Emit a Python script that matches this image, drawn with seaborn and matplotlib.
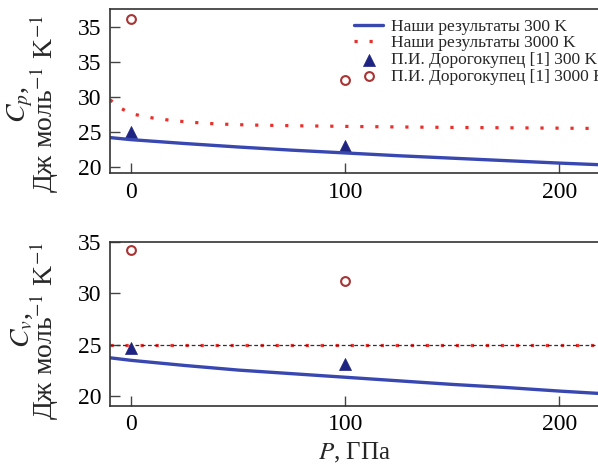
import matplotlib
matplotlib.use("Agg")
import matplotlib.pyplot as plt
import seaborn as sns

# values
p_line = [-10, 0, 25, 50, 75, 100, 125, 150, 175, 200, 220]
cp_300 = [24.2, 23.9, 23.35, 22.85, 22.4, 22.0, 21.6, 21.25, 20.9, 20.55, 20.3]
cv_300 = [23.7, 23.45, 22.95, 22.5, 22.15, 21.8, 21.45, 21.1, 20.8, 20.45, 20.2]

p_hot = [-10, -5, 0, 10, 20, 30, 40, 55, 75, 100, 125, 150, 175, 200, 220]
cp_3000 = [29.6, 28.4, 27.6, 27.0, 26.6, 26.35, 26.15, 26.0, 25.9, 25.8, 25.72, 25.65, 25.6, 25.55, 25.5]
cv_3000 = [25.0] * 15

p_ref = [0, 100]
cp_ref_300 = [25.0, 23.05]
cp_ref_3000 = [41.2, 32.4]
cv_ref_300 = [24.7, 23.05]
cv_ref_3000 = [34.25, 31.25]
dulong_petit = 24.94

top_ticks = [20, 25, 30, 35, 40]
top_labels = ["20", "25", "30", "35", "35"]
bottom_ticks = [20, 25, 30, 35]
x_ticks = [0, 100, 200]

labels = ["Наши результаты 300 K", "Наши результаты 3000 K",
          "П.И. Дорогокупец [1] 300 K", "П.И. Дорогокупец [1] 3000 K"]

sns.set_style("ticks")
plt.rcParams["font.family"] = ["Liberation Serif", "DejaVu Serif"]
plt.rcParams["mathtext.fontset"] = "stix"

blue = "#3848b0"
red = "#e8302c"
navy = "#1f2480"
brown = "#a83434"

fig = plt.figure(figsize=(5.98, 4.72), dpi=100)
ax1 = fig.add_axes([0.184, 0.633, 0.816, 0.348])
ax2 = fig.add_axes([0.184, 0.140, 0.816, 0.347])


def draw(ax, y300, y3000, ref300, ref3000):
    sns.lineplot(x=p_line, y=y300, ax=ax, color=blue, linewidth=2.4,
                 label=labels[0], legend=False)
    sns.lineplot(x=p_hot, y=y3000, ax=ax, color=red, linewidth=2.3,
                 linestyle=(0, (1, 3.7)), label=labels[1], legend=False)
    sns.scatterplot(x=p_ref, y=ref300, ax=ax, marker="^", color=navy, s=75,
                    edgecolor=navy, linewidth=0.5, label=labels[2], legend=False)
    sns.scatterplot(x=p_ref, y=ref3000, ax=ax, marker="o", facecolor="white",
                    edgecolor=brown, s=40, linewidth=1.5, label=labels[3], legend=False)
    ax.set_xlim(-10, 218)
    ax.set_xticks(x_ticks)
    ax.tick_params(direction="in", length=7, width=1, colors="#444444",
                   labelcolor="black", labelsize=17, pad=6)
    ax.spines["right"].set_visible(False)
    for s in ["left", "bottom", "top"]:
        ax.spines[s].set_linewidth(1.2)
        ax.spines[s].set_color("#333333")
    ax.set_xlabel("")


draw(ax1, cp_300, cp_3000, cp_ref_300, cp_ref_3000)
ax1.set_ylim(19.1, 42.6)
ax1.set_yticks(top_ticks)
ax1.set_yticklabels(top_labels)
ax1.set_ylabel("$C_p$,\nДж моль$^{-1}$ K$^{-1}$", fontsize=20, linespacing=0.7)
ax1.yaxis.set_label_coords(-0.1, 0.42)
ax1.legend(loc="upper left", bbox_to_anchor=(0.475, 1.015), frameon=False,
           fontsize=12.5, labelspacing=0.03, handlelength=1.7, handletextpad=0.45,
           borderpad=0.2)

draw(ax2, cv_300, cv_3000, cv_ref_300, cv_ref_3000)
ax2.axhline(dulong_petit, color="#333333", linewidth=0.9, linestyle=(0, (3, 2)))
ax2.set_ylim(19.0, 35.0)
ax2.set_yticks(bottom_ticks)
ax2.set_ylabel("$C_v$,\nДж моль$^{-1}$ K$^{-1}$", fontsize=20, linespacing=0.7)
ax2.yaxis.set_label_coords(-0.1, 0.46)
ax2.set_xlabel("$P$, ГПа", fontsize=18, labelpad=4)

fig.savefig("out.png", dpi=100)
